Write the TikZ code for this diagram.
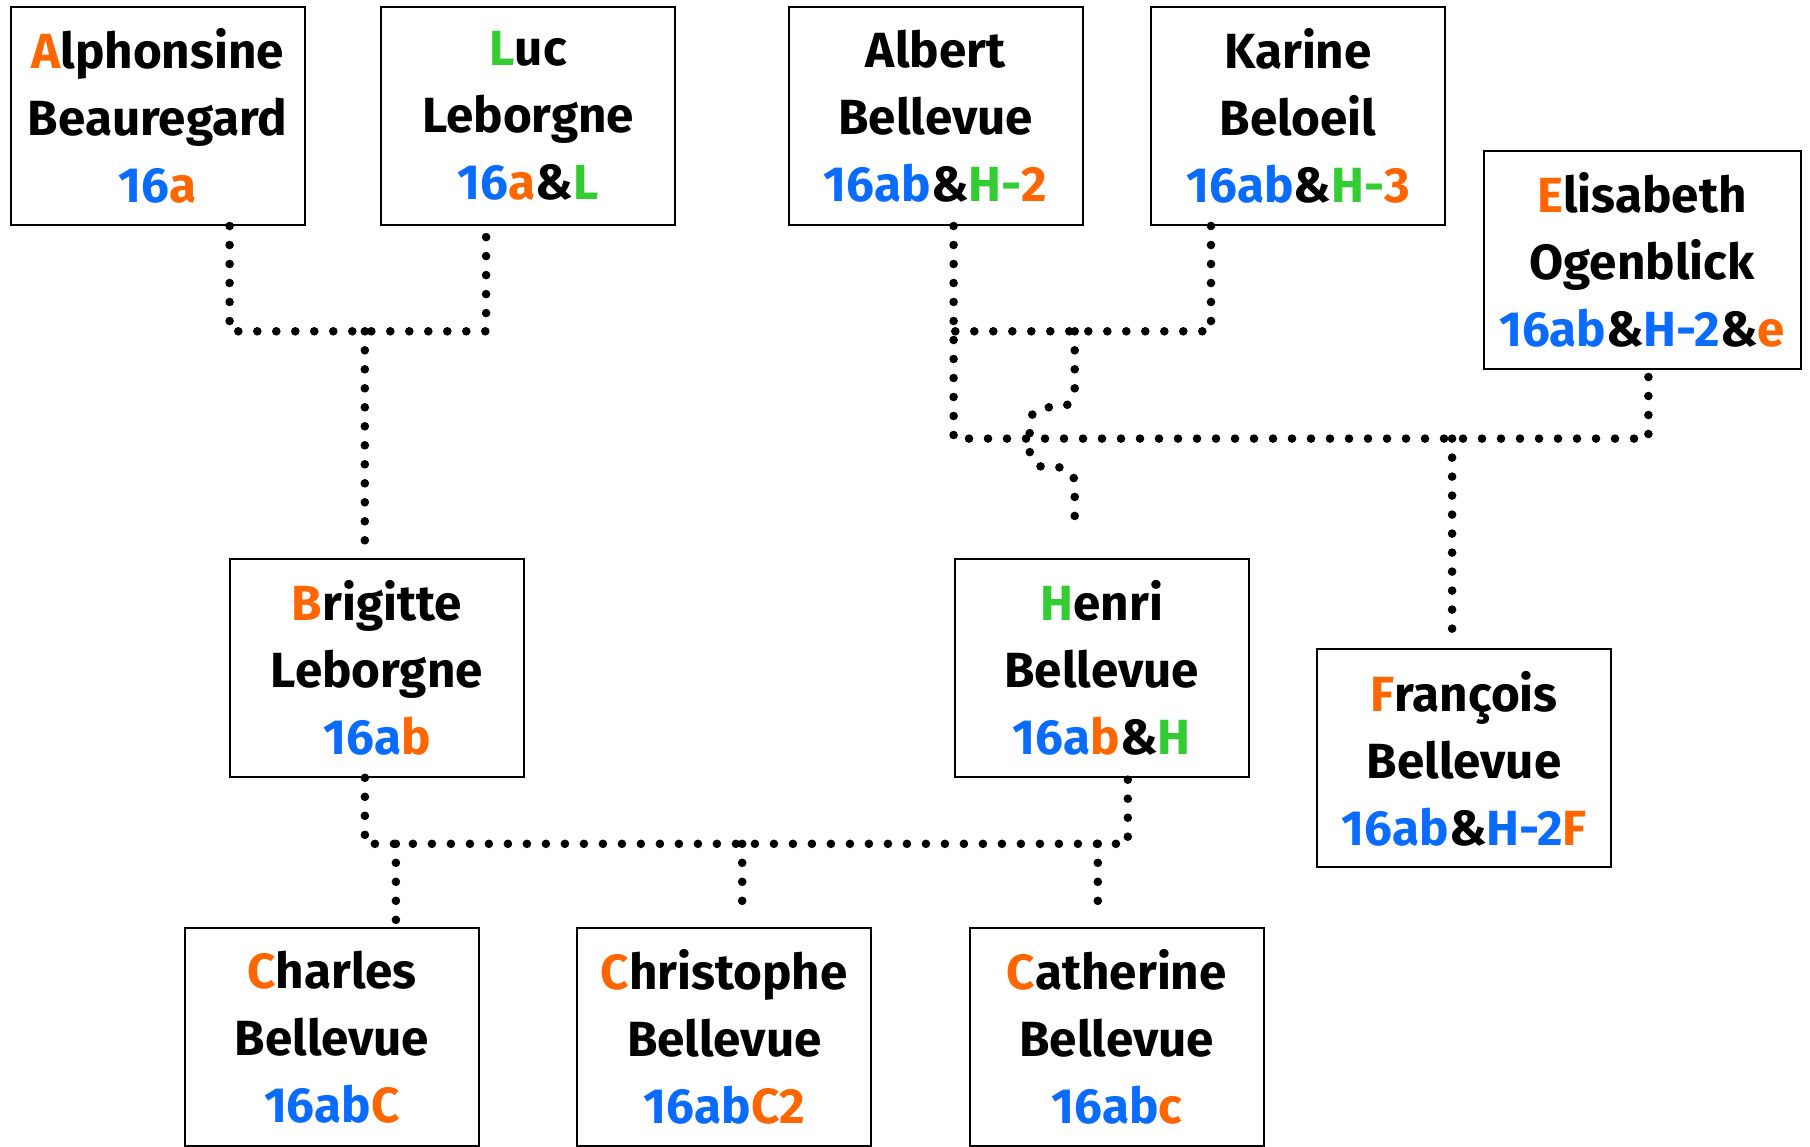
\documentclass[tikz,border=0pt]{standalone}
\usepackage{fontspec}
\setmainfont{Fira Sans}
\usepackage{tikz}
\usetikzlibrary{positioning}

\definecolor{ora}{HTML}{FF6600}
\definecolor{blu}{HTML}{0A6CFF}
\definecolor{gre}{HTML}{33CC33}
\newcommand{\cO}[1]{\textcolor{ora}{#1}}
\newcommand{\cB}[1]{\textcolor{blu}{#1}}
\newcommand{\cG}[1]{\textcolor{gre}{#1}}

\begin{document}
\begin{tikzpicture}[x=0.5pt,y=-0.5pt,
                    kin/.style={line width=4.3pt,line cap=round,dash pattern=on 0pt off 9.5pt}]
  \tikzstyle{person}=[draw=black,line width=1pt,fill=white,align=center,inner sep=0pt,
                      minimum width=147pt,minimum height=109pt,
                      font=\bfseries\fontsize{24.7}{33.5}\selectfont]

  \useasboundingbox (0,0) rectangle (1810,1146);

  % grandparents
  \node[person] (alph)   at (157.6,116)  {\cO{A}lphonsine\\Beauregard\\\cB{16}\cO{a}};
  \node[person] (luc)    at (528.1,116)  {\cG{L}uc\\Leborgne\\\cB{16}\cO{a}\&\cG{L}};
  \node[person] (albert) at (935.6,116)  {Albert\\Bellevue\\\cB{16ab}\&\cG{H-}\cO{2}};
  \node[person] (karine) at (1298,116)   {Karine\\Beloeil\\\cB{16ab}\&\cG{H-}\cO{3}};
  \node[person,minimum width=158.5pt] (elis) at (1642,260.3) {\cO{E}lisabeth\\Ogenblick\\\cB{16ab}\&\cB{H-2}\&\cO{e}};

  % parents
  \node[person] (brig)   at (376.9,667.8) {\cO{B}rigitte\\Leborgne\\\cB{16a}\cO{b}};
  \node[person] (henri)  at (1101.8,667.8) {\cG{H}enri\\Bellevue\\\cB{16a}\cO{b}\&\cG{H}};
  \node[person] (franc)  at (1464.2,758.4) {\cO{F}ran\c{c}ois\\Bellevue\\\cB{16ab}\&\cB{H-2}\cO{F}};

  % children
  \node[person] (charles) at (331.9,1037) {\cO{C}harles\\Bellevue\\\cB{16ab}\cO{C}};
  \node[person] (chris)   at (724.3,1037) {\cO{C}hristophe\\Bellevue\\\cB{16ab}\cO{C2}};
  \node[person] (cath)    at (1116.8,1037) {\cO{C}atherine\\Bellevue\\\cB{16ab}\cO{c}};

  \coordinate (ab)   at (364.8,331.3);
  \coordinate (kh)   at (1074.7,331.3);
  \coordinate (ae)   at (1452.1,438.6);
  \coordinate (cm)   at (742.2,843.8);
  \coordinate (aleg) at ([xshift=9pt]albert.south);
  \coordinate (cleg) at ([xshift=32pt]charles.north);
  \coordinate (tleg) at ([xshift=-9.5pt]cath.north);

  \draw[kin] ([xshift=36pt]alph.south) |- (ab) -| ([xshift=-21pt]luc.south);
  \draw[kin,shorten >=8pt] (ab) -- (ab |- brig.north);

  \draw[kin] ([xshift=-43.5pt]karine.south) |- (aleg |- kh);
  \draw[kin] (aleg) |- (ae) -| ([xshift=3.2pt]elis.south);
  \draw[kin,shorten >=1.5pt] (ae) -- (ae |- franc.north);
  \draw[kin,rounded corners=8pt,shorten >=17pt] (kh) -- ++(0,76) -- ++(-45,0) -- ++(0,60)
        -- ++(45,0) -- (kh |- henri.north);

  \draw[kin] ([xshift=-6pt]brig.south) |- (cm) -| ([xshift=13pt]henri.south);
  \draw[kin,shorten >=2pt] (cleg |- cm) -- (cleg);
  \draw[kin,shorten >=8pt] (cm) -- (cm |- chris.north);
  \draw[kin,shorten >=8pt] (tleg |- cm) -- (tleg);
\end{tikzpicture}
\end{document}
